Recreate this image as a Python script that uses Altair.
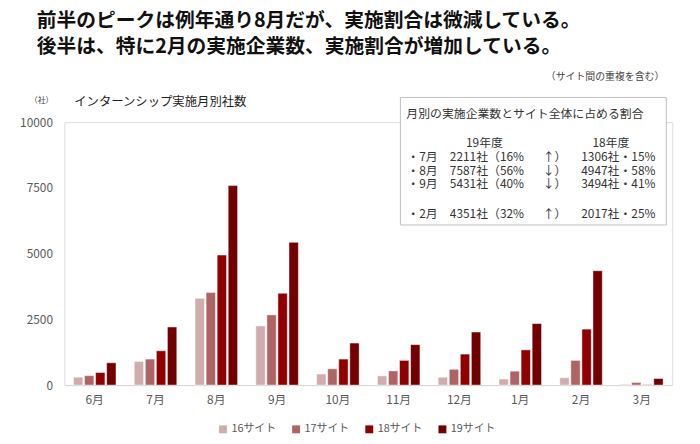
import altair as alt
import pandas as pd

months = ["6月", "7月", "8月", "9月", "10月", "11月", "12月", "1月", "2月", "3月"]
series = ["16サイト", "17サイト", "18サイト", "19サイト"]
s16 = [300, 900, 3300, 2250, 420, 350, 300, 230, 280, 30]
s17 = [360, 990, 3520, 2670, 620, 540, 600, 530, 940, 100]
s18 = [480, 1306, 4947, 3494, 990, 940, 1180, 1340, 2130, 15]
s19 = [850, 2211, 7587, 5431, 1600, 1540, 2020, 2340, 4351, 250]
colors = ["#cfadad", "#ae6464", "#900000", "#720000"]

heading1 = "前半のピークは例年通り8月だが、実施割合は微減している。"
heading2 = "後半は、特に2月の実施企業数、実施割合が増加している。"
note = "（サイト間の重複を含む）"
unit = "（社）"
subtitle = "インターンシップ実施月別社数"
box_title = "月別の実施企業数とサイト全体に占める割合"
box_head = ["19年度", "18年度"]
box_col1 = ["・7月", "・8月", "・9月", "・2月"]
box_col2 = ["2211社（16%", "7587社（56%", "5431社（40%", "4351社（32%"]
box_col3 = ["↑）", "↓）", "↓）", "↑）"]
box_col4 = ["1306社・15%", "4947社・58%", "3494社・41%", "2017社・25%"]

FONT = "Noto Sans CJK JP"

rows = []
for i, m in enumerate(months):
    for s, vals in zip(series, [s16, s17, s18, s19]):
        rows.append({"month": m, "series": s, "value": vals[i]})
df = pd.DataFrame(rows)

bars = alt.Chart(df).mark_bar(stroke="white", strokeWidth=0.5).encode(
    x=alt.X("month:N", sort=months, title=None,
            scale=alt.Scale(paddingInner=0.3, paddingOuter=0.15),
            axis=alt.Axis(labelAngle=0, ticks=False, domainColor="#d9d9d9",
                          labelFontSize=12, labelColor="#595959", labelPadding=10,
                          labelFont=FONT)),
    xOffset=alt.XOffset("series:N", sort=series, scale=alt.Scale(paddingInner=0.15)),
    y=alt.Y("value:Q", title=None,
            scale=alt.Scale(domain=[0, 10000]),
            axis=alt.Axis(values=[0, 2500, 5000, 7500, 10000], format="d", grid=False,
                          domain=False, ticks=False, labelFontSize=12,
                          labelColor="#595959", labelPadding=12, labelFont=FONT)),
    color=alt.Color("series:N", sort=series, title=None,
                    scale=alt.Scale(domain=series, range=colors),
                    legend=alt.Legend(orient="none", legendX=155, legendY=305,
                                      direction="horizontal", symbolType="square",
                                      symbolSize=64, symbolStrokeWidth=0,
                                      labelFontSize=11, labelColor="#595959",
                                      labelFont=FONT, columnPadding=14,
                                      symbolOffset=0, labelOffset=3)),
)


def txt(text, x, y, size, align="left", weight="normal", color="#333333"):
    return alt.Chart(pd.DataFrame({"t": [text]})).mark_text(
        align=align, baseline="middle", fontSize=size, font=FONT,
        fontWeight=weight, color=color
    ).encode(text="t:N", x=alt.value(x), y=alt.value(y))


layers = [bars]
layers.append(txt(heading1, -28, -102, 20, weight="bold", color="#111111"))
layers.append(txt(heading2, -28, -76, 20, weight="bold", color="#111111"))
layers.append(txt(note, 607, -46, 10, align="right", color="#444444"))
layers.append(txt(unit, -23, -21, 8, align="center", color="#444444"))
layers.append(txt(subtitle, 10, -20, 12.5, color="#222222"))

box = alt.Chart(pd.DataFrame({"a": [0]})).mark_rect(
    fill="white", stroke="#bfbfbf", strokeWidth=1
).encode(x=alt.value(340), x2=alt.value(609), y=alt.value(-25), y2=alt.value(104))
layers.append(box)
layers.append(txt(box_title, 346, -8, 12))
layers.append(txt(box_head[0], 425, 21, 12, align="center"))
layers.append(txt(box_head[1], 553, 21, 12, align="center"))
row_y = [35, 49, 63, 93]
for i in range(4):
    layers.append(txt(box_col1[i], 347, row_y[i], 12))
    layers.append(txt(box_col2[i], 390, row_y[i], 12))
    layers.append(txt(box_col3[i], 484, row_y[i], 12))
    layers.append(txt(box_col4[i], 598, row_y[i], 12, align="right"))

chart = alt.layer(*layers).properties(
    width=615, height=266,
    autosize=alt.AutoSizeParams(type="none"),
    padding={"left": 57, "top": 113, "right": 20, "bottom": 50},
).configure_view(stroke=None).configure(background="white")

chart.save("out.html", embed_options={"renderer": "svg", "actions": False})
